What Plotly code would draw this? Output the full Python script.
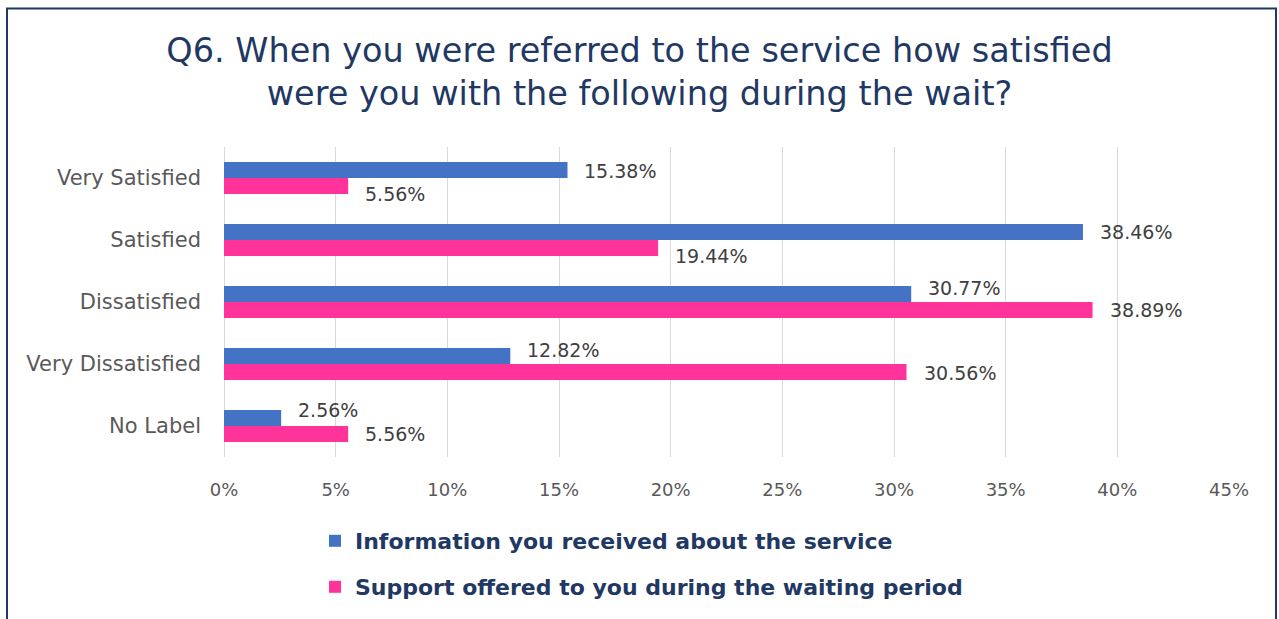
import plotly.graph_objects as go

categories = ["Very Satisfied", "Satisfied", "Dissatisfied", "Very Dissatisfied", "No Label"]
info_values = [15.38, 38.46, 30.77, 12.82, 2.56]
support_values = [5.56, 19.44, 38.89, 30.56, 5.56]
series_names = ["Information you received about the service",
                "Support offered to you during the waiting period"]
x_ticks = [0, 5, 10, 15, 20, 25, 30, 35, 40, 45]

# small vertical nudges (px) of the data labels, as placed in the original to avoid overlaps
info_label_nudge = [-1, 0, 6, 6, 8]
support_label_nudge = [-8, -8, 0, -1, 0]

BLUE = "#4472C4"
PINK = "#FF3399"
NAVY = "#1F3864"
GREY = "#595959"
FONT = "DejaVu Sans"

W, H = 1279, 619
L, R, T, B = 224, 50, 147, 161

fig = go.Figure()
fig.add_trace(go.Bar(y=categories, x=info_values, orientation="h", name=series_names[0],
                     marker=dict(color=BLUE, line=dict(width=0)), legend="legend"))
fig.add_trace(go.Bar(y=categories, x=support_values, orientation="h", name=series_names[1],
                     marker=dict(color=PINK, line=dict(width=0)), legend="legend2"))

annotations = []
for vals, dy, nudges in ((info_values, 8, info_label_nudge), (support_values, -8, support_label_nudge)):
    for c, v, n in zip(categories, vals, nudges):
        annotations.append(dict(x=v, y=c, xref="x", yref="y", text=f"{v:.2f}%",
                                showarrow=False, xanchor="left", yanchor="middle",
                                xshift=15, yshift=dy + n,
                                font=dict(family=FONT, size=19, color="#404040")))

pw = W - L - R
ph = H - T - B
def px_x(p):
    return (p - L) / pw
def px_y(p):
    return (H - B - p) / ph

fig.update_layout(
    width=W, height=H,
    margin=dict(l=L, r=R, t=T, b=B),
    paper_bgcolor="white", plot_bgcolor="white",
    barmode="group", bargap=0.485, bargroupgap=0,
    title=dict(text="Q6. When you were referred to the service how satisfied<br>were you with the following during the wait?",
               x=0.5, xanchor="center", xref="container",
               y=1 - 61.5 / H, yanchor="middle", yref="container",
               font=dict(family=FONT, size=33.5, color=NAVY)),
    xaxis=dict(range=[0, 45], tickvals=x_ticks, ticktext=[f"{t}%" for t in x_ticks],
               showgrid=True, gridcolor="#D9D9D9", gridwidth=1,
               zeroline=True, zerolinecolor="#D9D9D9", zerolinewidth=1,
               showline=False, ticks="", ticklabelstandoff=20,
               tickfont=dict(family=FONT, size=18, color=GREY), fixedrange=True),
    yaxis=dict(categoryorder="array", categoryarray=categories, autorange="reversed",
               showgrid=False, zeroline=False, showline=False, ticks="",
               ticklabelstandoff=22,
               tickfont=dict(family=FONT, size=21, color=GREY), fixedrange=True),
    legend=dict(x=px_x(315), y=px_y(541), xanchor="left", yanchor="middle",
                font=dict(family=FONT, size=22, color=NAVY, weight="bold"),
                bgcolor="rgba(0,0,0,0)", itemclick=False),
    legend2=dict(x=px_x(315), y=px_y(587), xanchor="left", yanchor="middle",
                 font=dict(family=FONT, size=22, color=NAVY, weight="bold"),
                 bgcolor="rgba(0,0,0,0)", itemclick=False),
    annotations=annotations,
    shapes=[dict(type="rect", xref="paper", yref="paper",
                 x0=px_x(7), x1=px_x(1276), y0=px_y(640), y1=px_y(8),
                 line=dict(color=NAVY, width=2), fillcolor="rgba(0,0,0,0)", layer="above")],
    showlegend=True,
)

fig.write_html("out.html", config={"displayModeBar": False},
               post_script="document.body.style.margin='0px';document.body.style.overflow='hidden';")
